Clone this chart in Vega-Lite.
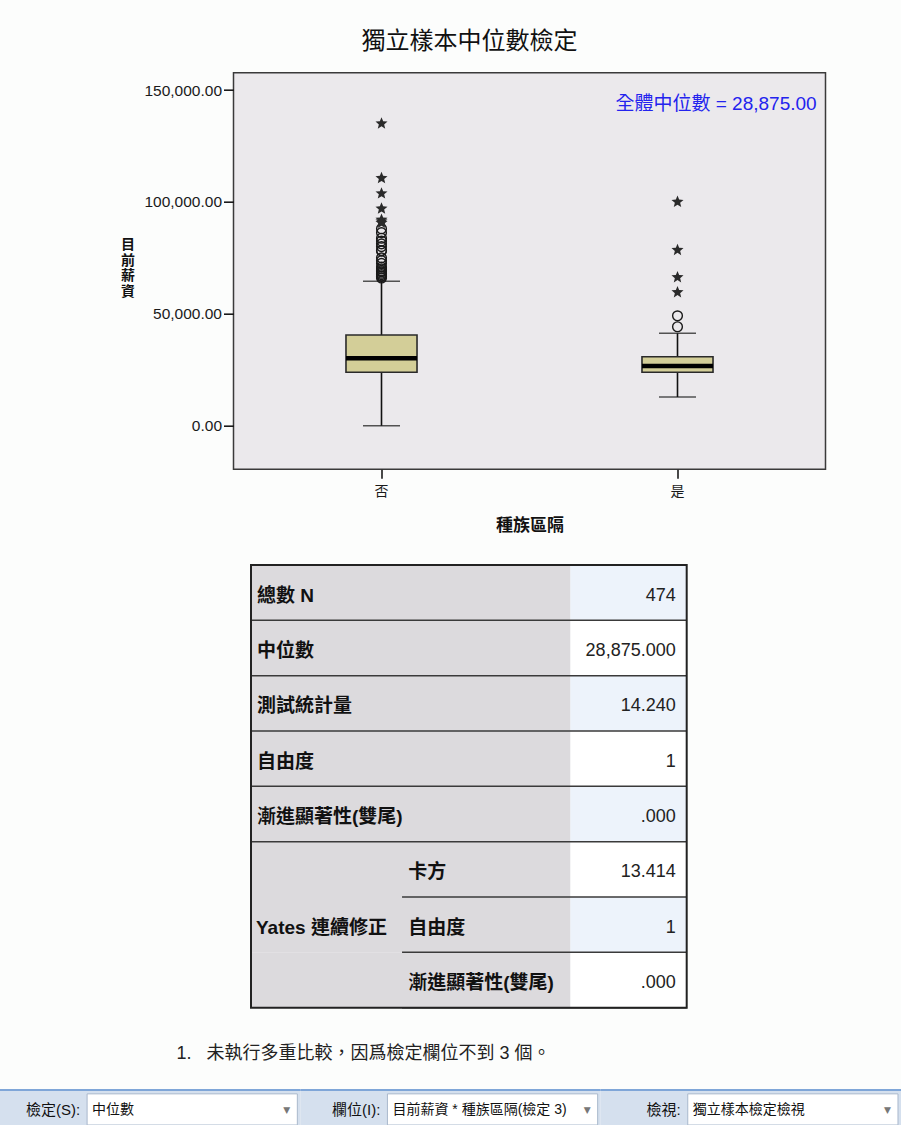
{
  "$schema": "https://vega.github.io/schema/vega-lite/v6.json",
  "width": 592,
  "height": 396.6,
  "autosize": {"type": "none"},
  "padding": {"left": 233.5, "top": 72.7, "right": 75.5, "bottom": 655.7},
  "background": "#FCFDFC",
  "config": {"view": {"fill": "#EBE9EC", "stroke": "#3A3A3A", "strokeWidth": 1.5}},
  "title": {"text": "獨立樣本中位數檢定", "font": "Noto Sans CJK TC", "fontSize": 24, "fontWeight": "normal", "color": "#111111", "anchor": "middle", "frame": "group", "offset": 0, "dx": -60, "dy": 5, "baseline": "bottom"},
  "datasets": {
    "boxes": [
      {"cat": "否", "lo": 0, "q1": 23860, "med": 30110, "q3": 40520, "hi": 64520},
      {"cat": "是", "lo": 12820, "q1": 23860, "med": 26670, "q3": 30830, "hi": 41280}
    ],
    "outliers": [
      {"cat": "否", "salary": 135000, "kind": "extreme"},
      {"cat": "否", "salary": 110625, "kind": "extreme"},
      {"cat": "否", "salary": 103750, "kind": "extreme"},
      {"cat": "否", "salary": 97000, "kind": "extreme"},
      {"cat": "否", "salary": 92000, "kind": "extreme"},
      {"cat": "否", "salary": 91250, "kind": "extreme"},
      {"cat": "否", "salary": 90625, "kind": "extreme"},
      {"cat": "否", "salary": 88000, "kind": "outlier"},
      {"cat": "否", "salary": 86250, "kind": "outlier"},
      {"cat": "否", "salary": 83750, "kind": "outlier"},
      {"cat": "否", "salary": 82500, "kind": "outlier"},
      {"cat": "否", "salary": 81250, "kind": "outlier"},
      {"cat": "否", "salary": 80000, "kind": "outlier"},
      {"cat": "否", "salary": 78250, "kind": "outlier"},
      {"cat": "否", "salary": 78125, "kind": "outlier"},
      {"cat": "否", "salary": 75000, "kind": "outlier"},
      {"cat": "否", "salary": 73750, "kind": "outlier"},
      {"cat": "否", "salary": 72500, "kind": "outlier"},
      {"cat": "否", "salary": 70875, "kind": "outlier"},
      {"cat": "否", "salary": 70000, "kind": "outlier"},
      {"cat": "否", "salary": 69250, "kind": "outlier"},
      {"cat": "否", "salary": 68750, "kind": "outlier"},
      {"cat": "否", "salary": 68125, "kind": "outlier"},
      {"cat": "否", "salary": 67500, "kind": "outlier"},
      {"cat": "否", "salary": 66875, "kind": "outlier"},
      {"cat": "否", "salary": 66750, "kind": "outlier"},
      {"cat": "否", "salary": 66000, "kind": "outlier"},
      {"cat": "是", "salary": 100000, "kind": "extreme"},
      {"cat": "是", "salary": 78500, "kind": "extreme"},
      {"cat": "是", "salary": 66300, "kind": "extreme"},
      {"cat": "是", "salary": 59600, "kind": "extreme"},
      {"cat": "是", "salary": 49100, "kind": "outlier"},
      {"cat": "是", "salary": 44200, "kind": "outlier"}
    ],
    "annot": [{"text": "全體中位數 = 28,875.00"}],
    "table": [
      {"r": 0, "label": "總數 N", "value": "474"},
      {"r": 1, "label": "中位數", "value": "28,875.000"},
      {"r": 2, "label": "測試統計量", "value": "14.240"},
      {"r": 3, "label": "自由度", "value": "1"},
      {"r": 4, "label": "漸進顯著性(雙尾)", "value": ".000"},
      {"r": 5, "group": "Yates 連續修正", "label": "卡方", "value": "13.414"},
      {"r": 6, "group": "Yates 連續修正", "label": "自由度", "value": "1"},
      {"r": 7, "group": "Yates 連續修正", "label": "漸進顯著性(雙尾)", "value": ".000"}
    ],
    "tableframe": [{"part": "table border"}],
    "toolbar": [
      {"g": "g1", "row": "bar", "label": "檢定(S):", "value": "中位數"},
      {"g": "g2", "row": "bar", "label": "欄位(I):", "value": "目前薪資 * 種族區隔(檢定 3)"},
      {"g": "g3", "row": "bar", "label": "檢視:", "value": "獨立樣本檢定檢視"}
    ],
    "note": [{"g": "g1", "row": "note", "note": "1.\u00a0\u00a0 未執行多重比較，因爲檢定欄位不到 3 個。"}]
  },
  "layer": [
    {
      "data": {"name": "boxes"},
      "mark": {"type": "rule", "color": "#111111", "strokeWidth": 1.6},
      "encoding": {
        "x": {"field": "cat", "type": "nominal", "scale": {"type": "band", "domain": ["否", "是"], "paddingInner": 0, "paddingOuter": 0},
          "axis": {"domain": false, "grid": false, "tickSize": 9, "tickWidth": 1.6, "tickColor": "#1A1A1A", "labelAngle": 0, "labelFont": "Liberation Sans, Noto Sans CJK TC", "labelFontSize": 14, "labelColor": "#1A1A1A", "labelPadding": 6, "title": "種族區隔", "titleFont": "Liberation Sans, Noto Sans CJK TC", "titleFontSize": 17, "titleFontWeight": "bold", "titleColor": "#111111", "titlePadding": 19}},
        "y": {"field": "lo", "type": "quantitative", "scale": {"type": "linear", "domain": [-19483, 157731], "nice": false, "zero": false},
          "axis": {"values": [0, 50000, 100000, 150000], "format": ",.2f", "domain": false, "grid": false, "tickSize": 10, "tickWidth": 1.6, "tickColor": "#1A1A1A", "labelFont": "Liberation Sans", "labelFontSize": 15.5, "labelColor": "#1A1A1A", "labelPadding": 2, "title": ["目", "前", "薪", "資"], "titleAngle": 0, "titleFont": "Liberation Sans, Noto Sans CJK TC", "titleFontSize": 14, "titleFontWeight": "bold", "titleColor": "#111111", "titleLineHeight": 15.5, "titleX": -106, "titleY": 165, "titleAlign": "center", "titleBaseline": "top"}},
        "y2": {"field": "hi"}
      }
    },
    {
      "data": {"name": "boxes"},
      "mark": {"type": "tick", "color": "#111111", "size": 37, "thickness": 1.6},
      "encoding": {
        "x": {"field": "cat", "type": "nominal", "scale": {"type": "band", "domain": ["否", "是"], "paddingInner": 0, "paddingOuter": 0}, "axis": null},
        "y": {"field": "hi", "type": "quantitative", "scale": {"type": "linear", "domain": [-19483, 157731], "nice": false, "zero": false}, "axis": null}
      }
    },
    {
      "data": {"name": "boxes"},
      "mark": {"type": "tick", "color": "#111111", "size": 37, "thickness": 1.6},
      "encoding": {
        "x": {"field": "cat", "type": "nominal", "scale": {"type": "band", "domain": ["否", "是"], "paddingInner": 0, "paddingOuter": 0}, "axis": null},
        "y": {"field": "lo", "type": "quantitative", "scale": {"type": "linear", "domain": [-19483, 157731], "nice": false, "zero": false}, "axis": null}
      }
    },
    {
      "data": {"name": "boxes"},
      "mark": {"type": "bar", "fill": "#D3CE98", "stroke": "#2A2A2A", "strokeWidth": 1.6, "width": {"band": 0.24}},
      "encoding": {
        "x": {"field": "cat", "type": "nominal", "scale": {"type": "band", "domain": ["否", "是"], "paddingInner": 0, "paddingOuter": 0}, "axis": null},
        "y": {"field": "q1", "type": "quantitative", "scale": {"type": "linear", "domain": [-19483, 157731], "nice": false, "zero": false}, "axis": null},
        "y2": {"field": "q3"}
      }
    },
    {
      "data": {"name": "boxes"},
      "mark": {"type": "tick", "color": "#000000", "size": 71, "thickness": 4.5, "opacity": 1},
      "encoding": {
        "x": {"field": "cat", "type": "nominal", "scale": {"type": "band", "domain": ["否", "是"], "paddingInner": 0, "paddingOuter": 0}, "axis": null},
        "y": {"field": "med", "type": "quantitative", "scale": {"type": "linear", "domain": [-19483, 157731], "nice": false, "zero": false}, "axis": null}
      }
    },
    {
      "data": {"name": "outliers"},
      "transform": [{"filter": "datum.kind === 'outlier'"}],
      "mark": {"type": "point", "shape": "circle", "filled": false, "size": 95, "color": "#1A1A1A", "strokeWidth": 1.4, "opacity": 1},
      "encoding": {
        "x": {"field": "cat", "type": "nominal", "scale": {"type": "band", "domain": ["否", "是"], "paddingInner": 0, "paddingOuter": 0}, "axis": null},
        "y": {"field": "salary", "type": "quantitative", "scale": {"type": "linear", "domain": [-19483, 157731], "nice": false, "zero": false}, "axis": null}
      }
    },
    {
      "data": {"name": "outliers"},
      "transform": [{"filter": "datum.kind === 'extreme'"}],
      "mark": {"type": "point", "shape": "M0,-1L0.26,-0.36L0.951,-0.309L0.42,0.137L0.588,0.809L0,0.44L-0.588,0.809L-0.42,0.137L-0.951,-0.309L-0.26,-0.36Z", "filled": true, "size": 160, "color": "#2A2A2A", "opacity": 1},
      "encoding": {
        "x": {"field": "cat", "type": "nominal", "scale": {"type": "band", "domain": ["否", "是"], "paddingInner": 0, "paddingOuter": 0}, "axis": null},
        "y": {"field": "salary", "type": "quantitative", "scale": {"type": "linear", "domain": [-19483, 157731], "nice": false, "zero": false}, "axis": null}
      }
    },
    {
      "data": {"name": "annot"},
      "mark": {"type": "text", "align": "right", "baseline": "middle", "font": "Liberation Sans, Noto Sans CJK TC", "fontSize": 19, "color": "#2323EE"},
      "encoding": {
        "x": {"datum": "是", "type": "nominal", "bandPosition": 0.97, "scale": {"type": "band", "domain": ["否", "是"], "paddingInner": 0, "paddingOuter": 0}, "axis": null},
        "y": {"datum": 143700, "type": "quantitative", "scale": {"type": "linear", "domain": [-19483, 157731], "nice": false, "zero": false}, "axis": null},
        "text": {"field": "text"}
      }
    },
    {
      "data": {"name": "table"},
      "mark": {"type": "rect", "fill": "#DCDADD"},
      "encoding": {
        "x": {"datum": "A", "type": "nominal", "bandPosition": 0, "scale": {"type": "band", "domain": ["A", "B", "C"], "paddingInner": 0, "paddingOuter": 0, "range": [17.5, 453.2]}, "axis": null},
        "x2": {"datum": "C", "bandPosition": 0.2},
        "y": {"field": "r", "type": "ordinal", "scale": {"type": "band", "domain": [0, 1, 2, 3, 4, 5, 6, 7], "paddingInner": 0, "paddingOuter": 0, "range": [492.3, 935]}, "axis": null}
      }
    },
    {
      "data": {"name": "table"},
      "mark": {"type": "rect"},
      "encoding": {
        "x": {"datum": "C", "type": "nominal", "bandPosition": 0.2, "scale": {"type": "band", "domain": ["A", "B", "C"], "paddingInner": 0, "paddingOuter": 0, "range": [17.5, 453.2]}, "axis": null},
        "x2": {"datum": "C", "bandPosition": 1},
        "y": {"field": "r", "type": "ordinal", "scale": {"type": "band", "domain": [0, 1, 2, 3, 4, 5, 6, 7], "paddingInner": 0, "paddingOuter": 0, "range": [492.3, 935]}, "axis": null},
        "color": {"condition": {"test": "datum.r % 2 === 0", "value": "#EDF3FB"}, "value": "#FFFFFF"}
      }
    },
    {
      "data": {"name": "table"},
      "transform": [{"filter": "!isValid(datum.group)"}],
      "mark": {"type": "rule", "color": "#3A3A3A", "strokeWidth": 1.5},
      "encoding": {
        "x": {"datum": "A", "type": "nominal", "bandPosition": 0, "scale": {"type": "band", "domain": ["A", "B", "C"], "paddingInner": 0, "paddingOuter": 0, "range": [17.5, 453.2]}, "axis": null},
        "x2": {"datum": "C", "bandPosition": 1},
        "y": {"field": "r", "type": "ordinal", "bandPosition": 1, "scale": {"type": "band", "domain": [0, 1, 2, 3, 4, 5, 6, 7], "paddingInner": 0, "paddingOuter": 0, "range": [492.3, 935]}, "axis": null}
      }
    },
    {
      "data": {"name": "table"},
      "transform": [{"filter": "isValid(datum.group)"}],
      "mark": {"type": "rule", "color": "#3A3A3A", "strokeWidth": 1.5},
      "encoding": {
        "x": {"datum": "B", "type": "nominal", "bandPosition": 0.04, "scale": {"type": "band", "domain": ["A", "B", "C"], "paddingInner": 0, "paddingOuter": 0, "range": [17.5, 453.2]}, "axis": null},
        "x2": {"datum": "C", "bandPosition": 1},
        "y": {"field": "r", "type": "ordinal", "bandPosition": 1, "scale": {"type": "band", "domain": [0, 1, 2, 3, 4, 5, 6, 7], "paddingInner": 0, "paddingOuter": 0, "range": [492.3, 935]}, "axis": null}
      }
    },
    {
      "data": {"name": "tableframe"},
      "mark": {"type": "rect", "fillOpacity": 0, "stroke": "#222222", "strokeWidth": 2},
      "encoding": {
        "x": {"datum": "A", "type": "nominal", "bandPosition": 0, "scale": {"type": "band", "domain": ["A", "B", "C"], "paddingInner": 0, "paddingOuter": 0, "range": [17.5, 453.2]}, "axis": null},
        "x2": {"datum": "C", "bandPosition": 1},
        "y": {"datum": 0, "type": "ordinal", "bandPosition": 0, "scale": {"type": "band", "domain": [0, 1, 2, 3, 4, 5, 6, 7], "paddingInner": 0, "paddingOuter": 0, "range": [492.3, 935]}, "axis": null},
        "y2": {"datum": 7, "bandPosition": 1}
      }
    },
    {
      "data": {"name": "table"},
      "transform": [{"filter": "!isValid(datum.group)"}],
      "mark": {"type": "text", "align": "left", "baseline": "middle", "dx": 6, "dy": 3, "font": "Liberation Sans, Noto Sans CJK TC", "fontSize": 19, "fontWeight": "bold", "color": "#111111"},
      "encoding": {
        "x": {"datum": "A", "type": "nominal", "bandPosition": 0, "scale": {"type": "band", "domain": ["A", "B", "C"], "paddingInner": 0, "paddingOuter": 0, "range": [17.5, 453.2]}, "axis": null},
        "y": {"field": "r", "type": "ordinal", "scale": {"type": "band", "domain": [0, 1, 2, 3, 4, 5, 6, 7], "paddingInner": 0, "paddingOuter": 0, "range": [492.3, 935]}, "axis": null},
        "text": {"field": "label"}
      }
    },
    {
      "data": {"name": "table"},
      "transform": [{"filter": "isValid(datum.group)"}],
      "mark": {"type": "text", "align": "left", "baseline": "middle", "dx": 12, "dy": 3, "font": "Liberation Sans, Noto Sans CJK TC", "fontSize": 19, "fontWeight": "bold", "color": "#111111"},
      "encoding": {
        "x": {"datum": "B", "type": "nominal", "bandPosition": 0, "scale": {"type": "band", "domain": ["A", "B", "C"], "paddingInner": 0, "paddingOuter": 0, "range": [17.5, 453.2]}, "axis": null},
        "y": {"field": "r", "type": "ordinal", "scale": {"type": "band", "domain": [0, 1, 2, 3, 4, 5, 6, 7], "paddingInner": 0, "paddingOuter": 0, "range": [492.3, 935]}, "axis": null},
        "text": {"field": "label"}
      }
    },
    {
      "data": {"name": "table"},
      "transform": [
        {"filter": "isValid(datum.group)"},
        {"aggregate": [{"op": "median", "field": "r", "as": "rmid"}], "groupby": ["group"]}
      ],
      "mark": {"type": "text", "align": "left", "baseline": "middle", "dx": 5, "dy": 3, "font": "Liberation Sans, Noto Sans CJK TC", "fontSize": 19, "fontWeight": "bold", "color": "#111111"},
      "encoding": {
        "x": {"datum": "A", "type": "nominal", "bandPosition": 0, "scale": {"type": "band", "domain": ["A", "B", "C"], "paddingInner": 0, "paddingOuter": 0, "range": [17.5, 453.2]}, "axis": null},
        "y": {"field": "rmid", "type": "ordinal", "scale": {"type": "band", "domain": [0, 1, 2, 3, 4, 5, 6, 7], "paddingInner": 0, "paddingOuter": 0, "range": [492.3, 935]}, "axis": null},
        "text": {"field": "group"}
      }
    },
    {
      "data": {"name": "table"},
      "mark": {"type": "text", "align": "right", "baseline": "middle", "dx": -11, "dy": 3, "font": "Liberation Sans", "fontSize": 18, "color": "#222222"},
      "encoding": {
        "x": {"datum": "C", "type": "nominal", "bandPosition": 1, "scale": {"type": "band", "domain": ["A", "B", "C"], "paddingInner": 0, "paddingOuter": 0, "range": [17.5, 453.2]}, "axis": null},
        "y": {"field": "r", "type": "ordinal", "scale": {"type": "band", "domain": [0, 1, 2, 3, 4, 5, 6, 7], "paddingInner": 0, "paddingOuter": 0, "range": [492.3, 935]}, "axis": null},
        "text": {"field": "value"}
      }
    },
    {
      "data": {"name": "toolbar"},
      "mark": {"type": "rect", "fill": "#D5E0EE"},
      "encoding": {
        "x": {"field": "g", "type": "nominal", "scale": {"type": "band", "domain": ["g1", "g2", "g3"], "paddingInner": 0, "paddingOuter": 0, "range": [-233.5, 667.5]}, "axis": null},
        "y": {"field": "row", "type": "nominal", "scale": {"type": "band", "domain": ["note", "bar"], "paddingInner": 0.346, "paddingOuter": 0, "range": [963.8, 1052.3]}, "axis": null}
      }
    },
    {
      "data": {"name": "toolbar"},
      "mark": {"type": "rule", "color": "#7FA6D8", "strokeWidth": 2},
      "encoding": {
        "x": {"field": "g", "type": "nominal", "bandPosition": 0, "scale": {"type": "band", "domain": ["g1", "g2", "g3"], "paddingInner": 0, "paddingOuter": 0, "range": [-233.5, 667.5]}, "axis": null},
        "x2": {"field": "g", "bandPosition": 1},
        "y": {"field": "row", "type": "nominal", "bandPosition": 0, "scale": {"type": "band", "domain": ["note", "bar"], "paddingInner": 0.346, "paddingOuter": 0, "range": [963.8, 1052.3]}, "axis": null}
      }
    },
    {
      "data": {"name": "toolbar"},
      "mark": {"type": "rect", "fill": "#FFFFFF", "stroke": "#A9B8CC", "strokeWidth": 1},
      "encoding": {
        "x": {"field": "g", "type": "nominal", "bandPosition": 0.29, "scale": {"type": "band", "domain": ["g1", "g2", "g3"], "paddingInner": 0, "paddingOuter": 0, "range": [-233.5, 667.5]}, "axis": null},
        "x2": {"field": "g", "bandPosition": 0.99},
        "y": {"field": "row", "type": "nominal", "bandPosition": 0.11, "scale": {"type": "band", "domain": ["note", "bar"], "paddingInner": 0.346, "paddingOuter": 0, "range": [963.8, 1052.3]}, "axis": null},
        "y2": {"field": "row", "bandPosition": 1}
      }
    },
    {
      "data": {"name": "toolbar"},
      "mark": {"type": "text", "align": "right", "baseline": "middle", "dx": -7, "dy": 2, "font": "Liberation Sans, Noto Sans CJK TC", "fontSize": 15, "color": "#111111"},
      "encoding": {
        "x": {"field": "g", "type": "nominal", "bandPosition": 0.29, "scale": {"type": "band", "domain": ["g1", "g2", "g3"], "paddingInner": 0, "paddingOuter": 0, "range": [-233.5, 667.5]}, "axis": null},
        "y": {"field": "row", "type": "nominal", "scale": {"type": "band", "domain": ["note", "bar"], "paddingInner": 0.346, "paddingOuter": 0, "range": [963.8, 1052.3]}, "axis": null},
        "text": {"field": "label"}
      }
    },
    {
      "data": {"name": "toolbar"},
      "mark": {"type": "text", "align": "left", "baseline": "middle", "dx": 5, "dy": 2, "font": "Liberation Sans, Noto Sans CJK TC", "fontSize": 14, "color": "#111111"},
      "encoding": {
        "x": {"field": "g", "type": "nominal", "bandPosition": 0.29, "scale": {"type": "band", "domain": ["g1", "g2", "g3"], "paddingInner": 0, "paddingOuter": 0, "range": [-233.5, 667.5]}, "axis": null},
        "y": {"field": "row", "type": "nominal", "scale": {"type": "band", "domain": ["note", "bar"], "paddingInner": 0.346, "paddingOuter": 0, "range": [963.8, 1052.3]}, "axis": null},
        "text": {"field": "value"}
      }
    },
    {
      "data": {"name": "toolbar"},
      "mark": {"type": "text", "align": "center", "baseline": "middle", "dy": 2, "font": "DejaVu Sans", "fontSize": 9, "color": "#777777"},
      "encoding": {
        "x": {"field": "g", "type": "nominal", "bandPosition": 0.955, "scale": {"type": "band", "domain": ["g1", "g2", "g3"], "paddingInner": 0, "paddingOuter": 0, "range": [-233.5, 667.5]}, "axis": null},
        "y": {"field": "row", "type": "nominal", "scale": {"type": "band", "domain": ["note", "bar"], "paddingInner": 0.346, "paddingOuter": 0, "range": [963.8, 1052.3]}, "axis": null},
        "text": {"value": "▼"}
      }
    },
    {
      "data": {"name": "note"},
      "mark": {"type": "text", "align": "left", "baseline": "middle", "font": "Liberation Sans, Noto Sans CJK TC", "fontSize": 18, "color": "#222222"},
      "encoding": {
        "x": {"field": "g", "type": "nominal", "bandPosition": 0.588, "scale": {"type": "band", "domain": ["g1", "g2", "g3"], "paddingInner": 0, "paddingOuter": 0, "range": [-233.5, 667.5]}, "axis": null},
        "y": {"field": "row", "type": "nominal", "scale": {"type": "band", "domain": ["note", "bar"], "paddingInner": 0.346, "paddingOuter": 0, "range": [963.8, 1052.3]}, "axis": null},
        "text": {"field": "note"}
      }
    }
  ],
  "resolve": {"scale": {"x": "independent", "y": "independent"}, "axis": {"x": "independent", "y": "independent"}}
}
